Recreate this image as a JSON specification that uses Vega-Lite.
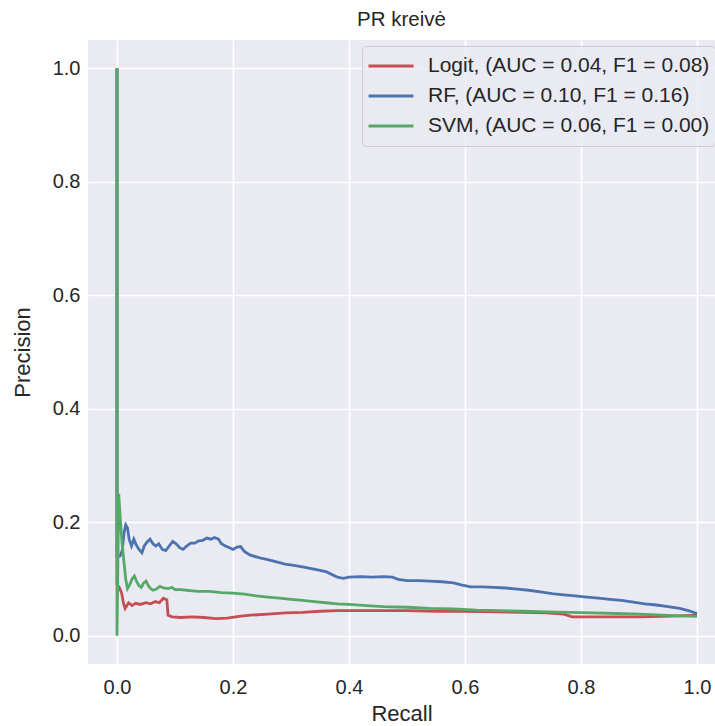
{
  "$schema": "https://vega.github.io/schema/vega-lite/v6.json",
  "width": 627,
  "height": 624,
  "autosize": {"type": "none"},
  "padding": {"left": 88, "top": 40, "right": 0, "bottom": 62},
  "background": "white",
  "title": {"text": "PR kreivė", "font": "Liberation Sans", "fontSize": 20.5, "fontWeight": "normal", "color": "#262626", "offset": 10},
  "config": {
    "view": {"fill": "#EAEAF2", "stroke": null},
    "axis": {
      "labelFont": "Liberation Sans", "labelFontSize": 20, "labelColor": "#262626",
      "titleFont": "Liberation Sans", "titleFontSize": 22, "titleFontWeight": "normal", "titleColor": "#262626",
      "grid": true, "gridColor": "#FFFFFF", "gridWidth": 1.6, "domain": false, "ticks": false, "labelPadding": 8
    }
  },
  "data": {"values": [
    {"model":"Logit","recall":0,"precision":1.0},
    {"model":"Logit","recall":0,"precision":0.09},
    {"model":"Logit","recall":0.004,"precision":0.085},
    {"model":"Logit","recall":0.008,"precision":0.075},
    {"model":"Logit","recall":0.011,"precision":0.058},
    {"model":"Logit","recall":0.014,"precision":0.048},
    {"model":"Logit","recall":0.02,"precision":0.058},
    {"model":"Logit","recall":0.026,"precision":0.053},
    {"model":"Logit","recall":0.032,"precision":0.057},
    {"model":"Logit","recall":0.04,"precision":0.055},
    {"model":"Logit","recall":0.05,"precision":0.058},
    {"model":"Logit","recall":0.058,"precision":0.056},
    {"model":"Logit","recall":0.066,"precision":0.06},
    {"model":"Logit","recall":0.073,"precision":0.058},
    {"model":"Logit","recall":0.08,"precision":0.066},
    {"model":"Logit","recall":0.086,"precision":0.063},
    {"model":"Logit","recall":0.088,"precision":0.036},
    {"model":"Logit","recall":0.095,"precision":0.033},
    {"model":"Logit","recall":0.11,"precision":0.032},
    {"model":"Logit","recall":0.13,"precision":0.033},
    {"model":"Logit","recall":0.15,"precision":0.032},
    {"model":"Logit","recall":0.17,"precision":0.030},
    {"model":"Logit","recall":0.19,"precision":0.031},
    {"model":"Logit","recall":0.21,"precision":0.034},
    {"model":"Logit","recall":0.23,"precision":0.036},
    {"model":"Logit","recall":0.26,"precision":0.038},
    {"model":"Logit","recall":0.29,"precision":0.040},
    {"model":"Logit","recall":0.32,"precision":0.041},
    {"model":"Logit","recall":0.35,"precision":0.043},
    {"model":"Logit","recall":0.38,"precision":0.044},
    {"model":"Logit","recall":0.42,"precision":0.044},
    {"model":"Logit","recall":0.46,"precision":0.044},
    {"model":"Logit","recall":0.5,"precision":0.044},
    {"model":"Logit","recall":0.55,"precision":0.043},
    {"model":"Logit","recall":0.6,"precision":0.043},
    {"model":"Logit","recall":0.65,"precision":0.042},
    {"model":"Logit","recall":0.7,"precision":0.041},
    {"model":"Logit","recall":0.74,"precision":0.040},
    {"model":"Logit","recall":0.77,"precision":0.038},
    {"model":"Logit","recall":0.785,"precision":0.033},
    {"model":"Logit","recall":0.82,"precision":0.033},
    {"model":"Logit","recall":0.86,"precision":0.033},
    {"model":"Logit","recall":0.9,"precision":0.033},
    {"model":"Logit","recall":0.94,"precision":0.034},
    {"model":"Logit","recall":0.97,"precision":0.035},
    {"model":"Logit","recall":1.0,"precision":0.036},
    {"model":"RF","recall":0,"precision":1.0},
    {"model":"RF","recall":0,"precision":0.14},
    {"model":"RF","recall":0.005,"precision":0.14},
    {"model":"RF","recall":0.009,"precision":0.15},
    {"model":"RF","recall":0.012,"precision":0.18},
    {"model":"RF","recall":0.015,"precision":0.195},
    {"model":"RF","recall":0.018,"precision":0.19},
    {"model":"RF","recall":0.021,"precision":0.17},
    {"model":"RF","recall":0.025,"precision":0.158},
    {"model":"RF","recall":0.029,"precision":0.17},
    {"model":"RF","recall":0.033,"precision":0.16},
    {"model":"RF","recall":0.038,"precision":0.152},
    {"model":"RF","recall":0.043,"precision":0.146},
    {"model":"RF","recall":0.047,"precision":0.158},
    {"model":"RF","recall":0.052,"precision":0.165},
    {"model":"RF","recall":0.057,"precision":0.17},
    {"model":"RF","recall":0.062,"precision":0.162},
    {"model":"RF","recall":0.067,"precision":0.158},
    {"model":"RF","recall":0.072,"precision":0.162},
    {"model":"RF","recall":0.078,"precision":0.152},
    {"model":"RF","recall":0.084,"precision":0.15},
    {"model":"RF","recall":0.09,"precision":0.158},
    {"model":"RF","recall":0.096,"precision":0.166},
    {"model":"RF","recall":0.102,"precision":0.162},
    {"model":"RF","recall":0.108,"precision":0.155},
    {"model":"RF","recall":0.114,"precision":0.152},
    {"model":"RF","recall":0.12,"precision":0.158},
    {"model":"RF","recall":0.127,"precision":0.163},
    {"model":"RF","recall":0.134,"precision":0.163},
    {"model":"RF","recall":0.141,"precision":0.167},
    {"model":"RF","recall":0.148,"precision":0.168},
    {"model":"RF","recall":0.155,"precision":0.172},
    {"model":"RF","recall":0.162,"precision":0.17},
    {"model":"RF","recall":0.168,"precision":0.173},
    {"model":"RF","recall":0.175,"precision":0.17},
    {"model":"RF","recall":0.18,"precision":0.162},
    {"model":"RF","recall":0.187,"precision":0.158},
    {"model":"RF","recall":0.194,"precision":0.155},
    {"model":"RF","recall":0.2,"precision":0.152},
    {"model":"RF","recall":0.207,"precision":0.156},
    {"model":"RF","recall":0.213,"precision":0.157},
    {"model":"RF","recall":0.22,"precision":0.148},
    {"model":"RF","recall":0.23,"precision":0.142},
    {"model":"RF","recall":0.24,"precision":0.139},
    {"model":"RF","recall":0.25,"precision":0.136},
    {"model":"RF","recall":0.26,"precision":0.134},
    {"model":"RF","recall":0.275,"precision":0.13},
    {"model":"RF","recall":0.29,"precision":0.126},
    {"model":"RF","recall":0.305,"precision":0.124},
    {"model":"RF","recall":0.32,"precision":0.121},
    {"model":"RF","recall":0.335,"precision":0.118},
    {"model":"RF","recall":0.35,"precision":0.115},
    {"model":"RF","recall":0.36,"precision":0.113},
    {"model":"RF","recall":0.37,"precision":0.108},
    {"model":"RF","recall":0.38,"precision":0.103},
    {"model":"RF","recall":0.39,"precision":0.101},
    {"model":"RF","recall":0.4,"precision":0.103},
    {"model":"RF","recall":0.42,"precision":0.104},
    {"model":"RF","recall":0.44,"precision":0.103},
    {"model":"RF","recall":0.46,"precision":0.104},
    {"model":"RF","recall":0.475,"precision":0.103},
    {"model":"RF","recall":0.485,"precision":0.099},
    {"model":"RF","recall":0.5,"precision":0.097},
    {"model":"RF","recall":0.52,"precision":0.097},
    {"model":"RF","recall":0.54,"precision":0.096},
    {"model":"RF","recall":0.56,"precision":0.095},
    {"model":"RF","recall":0.58,"precision":0.093},
    {"model":"RF","recall":0.595,"precision":0.089},
    {"model":"RF","recall":0.61,"precision":0.086},
    {"model":"RF","recall":0.63,"precision":0.086},
    {"model":"RF","recall":0.65,"precision":0.085},
    {"model":"RF","recall":0.67,"precision":0.084},
    {"model":"RF","recall":0.69,"precision":0.082},
    {"model":"RF","recall":0.71,"precision":0.080},
    {"model":"RF","recall":0.73,"precision":0.077},
    {"model":"RF","recall":0.75,"precision":0.074},
    {"model":"RF","recall":0.77,"precision":0.072},
    {"model":"RF","recall":0.79,"precision":0.070},
    {"model":"RF","recall":0.81,"precision":0.068},
    {"model":"RF","recall":0.83,"precision":0.066},
    {"model":"RF","recall":0.85,"precision":0.064},
    {"model":"RF","recall":0.87,"precision":0.062},
    {"model":"RF","recall":0.89,"precision":0.059},
    {"model":"RF","recall":0.91,"precision":0.056},
    {"model":"RF","recall":0.93,"precision":0.054},
    {"model":"RF","recall":0.95,"precision":0.051},
    {"model":"RF","recall":0.97,"precision":0.048},
    {"model":"RF","recall":0.985,"precision":0.044},
    {"model":"RF","recall":1.0,"precision":0.039},
    {"model":"SVM","recall":0,"precision":1.0},
    {"model":"SVM","recall":0,"precision":0.0},
    {"model":"SVM","recall":0.003,"precision":0.25},
    {"model":"SVM","recall":0.006,"precision":0.2},
    {"model":"SVM","recall":0.009,"precision":0.16},
    {"model":"SVM","recall":0.012,"precision":0.13},
    {"model":"SVM","recall":0.015,"precision":0.1},
    {"model":"SVM","recall":0.018,"precision":0.083},
    {"model":"SVM","recall":0.022,"precision":0.09},
    {"model":"SVM","recall":0.026,"precision":0.1},
    {"model":"SVM","recall":0.03,"precision":0.105},
    {"model":"SVM","recall":0.034,"precision":0.095},
    {"model":"SVM","recall":0.038,"precision":0.088},
    {"model":"SVM","recall":0.042,"precision":0.085},
    {"model":"SVM","recall":0.046,"precision":0.093},
    {"model":"SVM","recall":0.05,"precision":0.096},
    {"model":"SVM","recall":0.054,"precision":0.088},
    {"model":"SVM","recall":0.058,"precision":0.083},
    {"model":"SVM","recall":0.062,"precision":0.08},
    {"model":"SVM","recall":0.068,"precision":0.082},
    {"model":"SVM","recall":0.074,"precision":0.087},
    {"model":"SVM","recall":0.08,"precision":0.084},
    {"model":"SVM","recall":0.088,"precision":0.083},
    {"model":"SVM","recall":0.095,"precision":0.085},
    {"model":"SVM","recall":0.1,"precision":0.081},
    {"model":"SVM","recall":0.11,"precision":0.081},
    {"model":"SVM","recall":0.12,"precision":0.08},
    {"model":"SVM","recall":0.13,"precision":0.079},
    {"model":"SVM","recall":0.14,"precision":0.078},
    {"model":"SVM","recall":0.16,"precision":0.078},
    {"model":"SVM","recall":0.18,"precision":0.076},
    {"model":"SVM","recall":0.2,"precision":0.075},
    {"model":"SVM","recall":0.22,"precision":0.073},
    {"model":"SVM","recall":0.24,"precision":0.07},
    {"model":"SVM","recall":0.26,"precision":0.068},
    {"model":"SVM","recall":0.28,"precision":0.066},
    {"model":"SVM","recall":0.3,"precision":0.064},
    {"model":"SVM","recall":0.32,"precision":0.062},
    {"model":"SVM","recall":0.34,"precision":0.06},
    {"model":"SVM","recall":0.36,"precision":0.058},
    {"model":"SVM","recall":0.38,"precision":0.056},
    {"model":"SVM","recall":0.4,"precision":0.055},
    {"model":"SVM","recall":0.43,"precision":0.053},
    {"model":"SVM","recall":0.46,"precision":0.051},
    {"model":"SVM","recall":0.5,"precision":0.05},
    {"model":"SVM","recall":0.54,"precision":0.048},
    {"model":"SVM","recall":0.58,"precision":0.047},
    {"model":"SVM","recall":0.62,"precision":0.045},
    {"model":"SVM","recall":0.66,"precision":0.044},
    {"model":"SVM","recall":0.7,"precision":0.043},
    {"model":"SVM","recall":0.74,"precision":0.042},
    {"model":"SVM","recall":0.78,"precision":0.041},
    {"model":"SVM","recall":0.82,"precision":0.040},
    {"model":"SVM","recall":0.86,"precision":0.039},
    {"model":"SVM","recall":0.9,"precision":0.038},
    {"model":"SVM","recall":0.94,"precision":0.036},
    {"model":"SVM","recall":0.97,"precision":0.035},
    {"model":"SVM","recall":1.0,"precision":0.034}
  ]},
  "mark": {"type": "line", "strokeWidth": 2.8, "clip": true},
  "encoding": {
    "x": {"field": "recall", "type": "quantitative",
      "scale": {"domain": [-0.05, 1.031], "nice": false, "zero": false},
      "axis": {"values": [0, 0.2, 0.4, 0.6, 0.8, 1.0], "format": ".1f", "title": "Recall", "labelPadding": 13, "titlePadding": 6}},
    "y": {"field": "precision", "type": "quantitative",
      "scale": {"domain": [-0.05, 1.05], "nice": false, "zero": false},
      "axis": {"values": [0, 0.2, 0.4, 0.6, 0.8, 1.0], "format": ".1f", "title": "Precision", "titlePadding": 18}},
    "color": {"field": "model", "type": "nominal",
      "scale": {"domain": ["Logit", "RF", "SVM"], "range": ["#C44E52", "#4C72B0", "#55A868"]},
      "legend": {
        "orient": "none", "legendX": 274, "legendY": 6, "title": null,
        "labelExpr": "datum.label == 'Logit' ? 'Logit, (AUC = 0.04, F1 = 0.08)' : datum.label == 'RF' ? 'RF, (AUC = 0.10, F1 = 0.16)' : 'SVM, (AUC = 0.06, F1 = 0.00)'",
        "symbolType": "stroke", "symbolSize": 2025, "symbolStrokeWidth": 2.8,
        "labelFont": "Liberation Sans", "labelFontSize": 21, "labelColor": "#262626", "labelOffset": 13, "labelLimit": 400,
        "clipHeight": 30, "rowPadding": 0, "padding": 5,
        "fillColor": "rgba(234,234,242,0.8)", "strokeColor": "#CCCCCC", "cornerRadius": 4
      }},
    "order": {"value": null}
  }
}
